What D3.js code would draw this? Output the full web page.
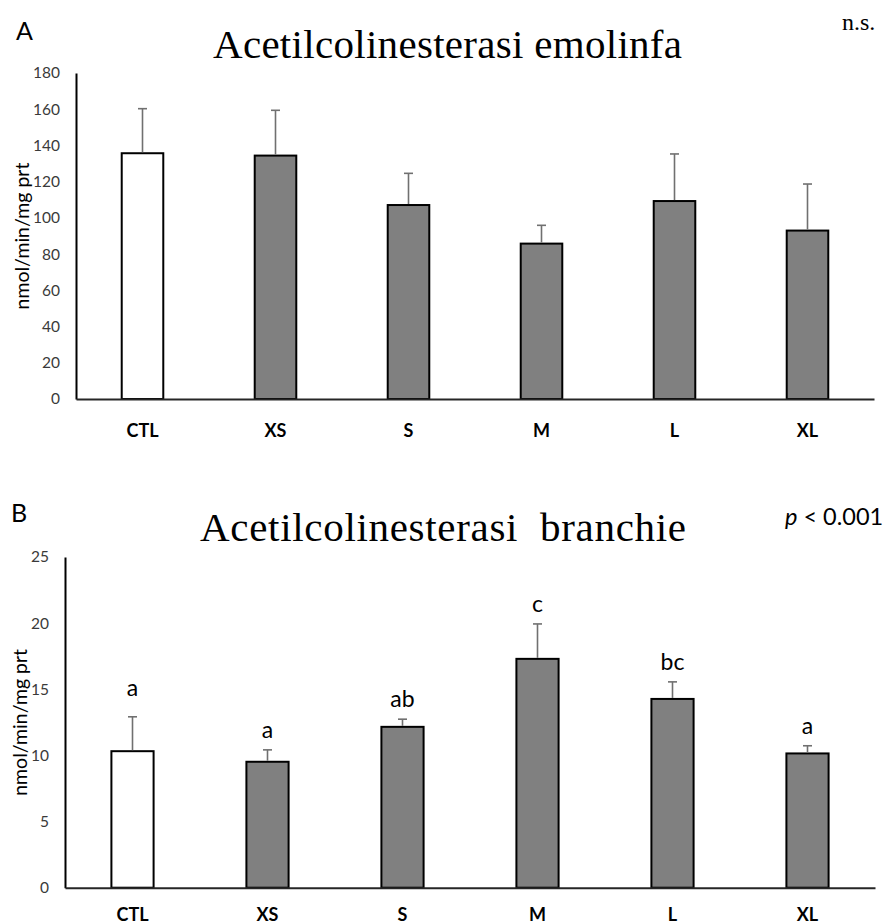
<!DOCTYPE html>
<html>
<head>
<meta charset="utf-8">
<script src="https://cdn.jsdelivr.net/npm/d3@7"></script>
<style>
  html, body { margin: 0; padding: 0; background: #fff; }
  svg { display: block; }
  .sans { font-family: Lato, "Open Sans", sans-serif; }
  .serif { font-family: "Liberation Serif", "DejaVu Serif", serif; }
</style>
</head>
<body>
<svg id="chart" width="890" height="924"></svg>
<script>
// Size classes
const categories = ["CTL", "XS", "S", "M", "L", "XL"];

// Panel A: acetylcholinesterase in hemolymph (mean, +SD)
const hemolymphMean = [135.7, 134.4, 107.1, 85.8, 109.3, 93.0];
const hemolymphErr  = [24.6, 25.0, 17.5, 10.1, 26.0, 25.7];
const hemolymphTicks = [0, 20, 40, 60, 80, 100, 120, 140, 160, 180];

// Panel B: acetylcholinesterase in gills (mean, +SD) with post-hoc groups
const gillMean = [10.32, 9.52, 12.16, 17.3, 14.27, 10.15];
const gillErr  = [2.6, 0.9, 0.58, 2.64, 1.29, 0.58];
const gillLetters = ["a", "a", "ab", "c", "bc", "a"];
const gillTicks = [0, 5, 10, 15, 20, 25];

const svg = d3.select("#chart");

function drawPanel(cfg) {
  const g = svg.append("g");
  const x = d3.scaleBand()
    .domain(categories)
    .range([cfg.left, cfg.right])
    .paddingInner(0.6875)
    .paddingOuter(0.34375);
  const y = d3.scaleLinear()
    .domain([0, d3.max(cfg.ticks)])
    .range([cfg.bottom, cfg.top]);

  // y axis
  const yAxis = g.append("g")
    .attr("transform", `translate(${cfg.left},0)`)
    .call(d3.axisLeft(y).tickValues(cfg.ticks).tickSize(0).tickPadding(16).tickSizeOuter(0));
  yAxis.select(".domain").attr("stroke", "#000").attr("stroke-width", 2);
  yAxis.selectAll("text")
    .attr("class", "sans")
    .style("font-size", "15.5px")
    .attr("fill", "#3a3a3a");

  // bars
  g.selectAll("rect.bar")
    .data(cfg.mean)
    .join("rect")
    .attr("class", "bar")
    .attr("x", (d, i) => x(categories[i]))
    .attr("width", x.bandwidth())
    .attr("y", d => y(d))
    .attr("height", d => y(0) - y(d))
    .attr("fill", (d, i) => i === 0 ? "#ffffff" : "#808080")
    .attr("stroke", "#000")
    .attr("stroke-width", 2);

  // error bars (positive side only)
  const eb = g.selectAll("g.err")
    .data(cfg.mean.map((m, i) => ({ m, e: cfg.err[i], c: categories[i] })))
    .join("g")
    .attr("class", "err")
    .attr("stroke", "#707070")
    .attr("stroke-width", 1.6);
  eb.append("line")
    .attr("x1", d => x(d.c) + x.bandwidth() / 2)
    .attr("x2", d => x(d.c) + x.bandwidth() / 2)
    .attr("y1", d => y(d.m) - 1)
    .attr("y2", d => y(d.m + d.e));
  eb.append("line")
    .attr("x1", d => x(d.c) + x.bandwidth() / 2 - 4.5)
    .attr("x2", d => x(d.c) + x.bandwidth() / 2 + 4.5)
    .attr("y1", d => y(d.m + d.e))
    .attr("y2", d => y(d.m + d.e));

  // x axis
  const xAxis = g.append("g")
    .attr("transform", `translate(0,${cfg.bottom})`)
    .call(d3.axisBottom(x).tickSize(0).tickPadding(cfg.xPad).tickSizeOuter(0));
  xAxis.select(".domain").attr("stroke", "#262626").attr("stroke-width", 2);
  xAxis.selectAll("text")
    .attr("class", "sans")
    .style("font-size", "18px")
    .style("font-weight", "bold")
    .attr("fill", "#000");

  // y-axis title
  g.append("text")
    .attr("class", "sans")
    .attr("transform", `translate(${cfg.yTitleX},${(cfg.top + cfg.bottom) / 2}) rotate(-90)`)
    .attr("text-anchor", "middle")
    .style("font-size", "19.5px")
    .attr("fill", "#000")
    .text("nmol/min/mg prt");

  // chart title
  g.append("text")
    .attr("class", "serif")
    .attr("x", cfg.titleX)
    .attr("y", cfg.titleY)
    .attr("xml:space", "preserve")
    .style("white-space", "pre")
    .style("font-size", "41px")
    .attr("textLength", cfg.titleW)
    .attr("lengthAdjust", "spacing")
    .attr("fill", "#000")
    .text(cfg.title);

  // panel letter
  g.append("text")
    .attr("class", "sans")
    .attr("x", cfg.tagX)
    .attr("y", cfg.tagY)
    .style("font-size", "25px")
    .attr("fill", "#000")
    .text(cfg.tag);

  return { g, x, y };
}

// Panel A
const A = drawPanel({
  left: 76, right: 874, top: 73, bottom: 399, xPad: 25,
  mean: hemolymphMean, err: hemolymphErr, ticks: hemolymphTicks,
  title: "Acetilcolinesterasi emolinfa", titleX: 213, titleY: 58, titleW: 469,
  tag: "A", tagX: 16, tagY: 40, yTitleX: 29
});
svg.append("text")
  .attr("class", "serif")
  .attr("x", 842).attr("y", 30)
  .style("font-size", "24px")
  .attr("fill", "#000")
  .text("n.s.");

// Panel B
const B = drawPanel({
  left: 65, right: 875, top: 557, bottom: 887.7, xPad: 21,
  mean: gillMean, err: gillErr, ticks: gillTicks,
  title: "Acetilcolinesterasi  branchie", titleX: 200, titleY: 541, titleW: 486,
  tag: "B", tagX: 11, tagY: 522, yTitleX: 27
});

// significance letters above the gill bars
B.g.selectAll("text.grp")
  .data(gillLetters)
  .join("text")
  .attr("class", "sans grp")
  .attr("x", (d, i) => B.x(categories[i]) + B.x.bandwidth() / 2)
  .attr("y", (d, i) => B.y(gillMean[i] + gillErr[i]) - (i === 0 ? 21 : 12))
  .attr("text-anchor", "middle")
  .style("font-size", "23px")
  .attr("fill", "#000")
  .text(d => d);

// p-value
const pv = svg.append("text")
  .attr("class", "sans")
  .attr("x", 785).attr("y", 525)
  .style("font-size", "23.5px")
  .attr("fill", "#000");
pv.append("tspan").style("font-style", "italic").text("p");
pv.append("tspan").text(" < 0.001");
</script>
</body>
</html>
